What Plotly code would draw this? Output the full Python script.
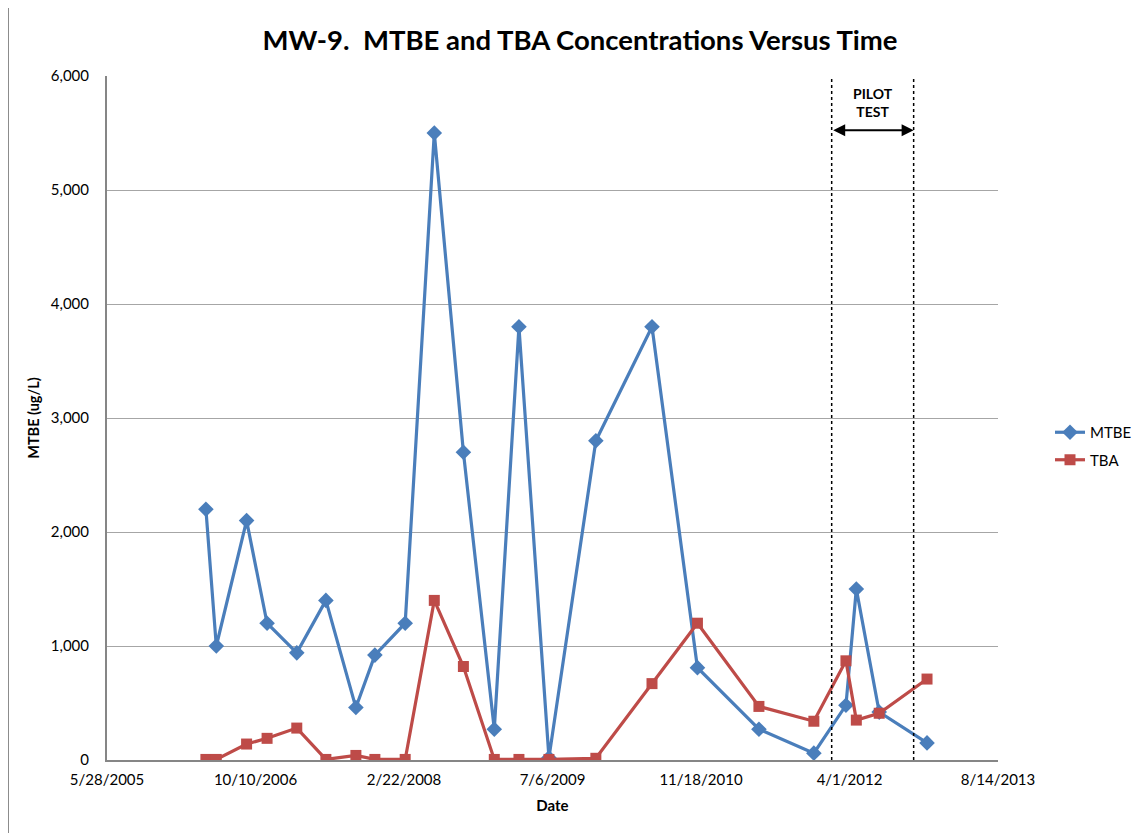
import plotly.graph_objects as go

dates = ["2006-04-26", "2006-05-31", "2006-09-10", "2006-11-18", "2007-02-26", "2007-06-04",
         "2007-09-13", "2007-11-16", "2008-02-26", "2008-06-03", "2008-09-09", "2008-12-22",
         "2009-03-15", "2009-06-24", "2009-11-29", "2010-06-06", "2010-11-06", "2011-06-01",
         "2011-12-03", "2012-03-20", "2012-04-24", "2012-07-10", "2012-12-18"]
mtbe = [2200, 1000, 2100, 1200, 940, 1400, 460, 920, 1200, 5500, 2700, 270,
        3800, 20, 2800, 3800, 810, 270, 60, 480, 1500, 420, 150]
tba = [5, 5, 140, 190, 280, 5, 40, 5, 5, 1400, 820, 5,
       5, 5, 15, 670, 1200, 470, 340, 870, 350, 410, 710]

tick_dates = ["2005-05-28", "2006-10-10", "2008-02-22", "2009-07-06", "2010-11-18", "2012-04-01", "2013-08-14"]
tick_text = ["5/28/2005", "10/10/2006", "2/22/2008", "7/6/2009", "11/18/2010", "4/1/2012", "8/14/2013"]
pilot_start = "2012-02-01"
pilot_end = "2012-11-03"

FONT = "Lato"
OFF = 8  # page offset of the figure (body margin)
W, H = 1143 - OFF, 833 - OFF
L, R, T, B = 99, 145, 68, 73
pw, ph = W - L - R, H - T - B

def px_x(p):
    return (p - OFF - L) / pw

def px_y(p):
    return (H - B - (p - OFF)) / ph

fig = go.Figure()
fig.add_trace(go.Scatter(x=dates, y=mtbe, name="MTBE", mode="lines+markers", legendgroup="a",
                         line=dict(color="#4A7EBB", width=3.2),
                         marker=dict(symbol="diamond", size=12, color="#4A7EBB")))
fig.add_trace(go.Scatter(x=dates, y=tba, name="TBA", mode="lines+markers", legendgroup="b",
                         line=dict(color="#BE4B48", width=3.2),
                         marker=dict(symbol="square", size=11, color="#BE4B48")))

for d in (pilot_start, pilot_end):
    fig.add_shape(type="line", xref="x", yref="y", x0=d, x1=d, y0=0, y1=6000,
                  line=dict(color="black", width=1.5, dash="dot"))

fig.add_annotation(x=pilot_end, y=5524, ax=pilot_start, ay=5524, xref="x", yref="y",
                   axref="x", ayref="y", text="", showarrow=True, arrowhead=2,
                   arrowside="end+start", arrowsize=1.2, arrowwidth=2, arrowcolor="black")
fig.add_annotation(x="2012-06-18", y=5770, xref="x", yref="y", text="<b>PILOT<br>TEST</b>",
                   showarrow=False, font=dict(family=FONT, size=14, color="black"))

# chart-area border (left edge visible)
fig.add_shape(type="line", xref="paper", yref="paper", x0=px_x(8.5), x1=px_x(8.5),
              y0=px_y(OFF), y1=px_y(833), line=dict(color="#8C8C8C", width=1))

fig.update_layout(
    width=W, height=H,
    margin=dict(l=L, r=R, t=T, b=B, autoexpand=False),
    paper_bgcolor="white", plot_bgcolor="white",
    font=dict(family=FONT, size=15, color="black"),
    title=dict(text="<b>MW-9.  MTBE and TBA Concentrations Versus Time</b>",
               x=px_x(580), xref="paper", xanchor="center",
               y=1 - (40 - OFF) / H, yanchor="middle",
               font=dict(family=FONT, size=27.5, color="black")),
    xaxis=dict(type="date", range=[tick_dates[0], tick_dates[-1]], automargin=False,
               tickvals=tick_dates, ticktext=tick_text, showgrid=False,
               showline=True, linecolor="#868686", linewidth=2, ticks="",
               ticklabelstandoff=5,
               title=dict(text="<b>Date</b>", font=dict(size=15), standoff=13),
               tickfont=dict(size=15)),
    yaxis=dict(range=[0, 6000], dtick=1000, tickformat=",", showgrid=True, automargin=False,
               gridcolor="#A6A6A6", gridwidth=1, showline=True, linecolor="#868686",
               linewidth=2, ticks="", zeroline=False, ticklabelstandoff=13,
               title=dict(text="<b>MTBE (ug/L)</b>", font=dict(size=14.5), standoff=8),
               tickfont=dict(size=15)),
    legend=dict(x=px_x(1050), y=px_y(446), xanchor="left", yanchor="middle",
                font=dict(size=15), bgcolor="rgba(0,0,0,0)", tracegroupgap=5),
    showlegend=True,
)

fig.write_html("out.html")
